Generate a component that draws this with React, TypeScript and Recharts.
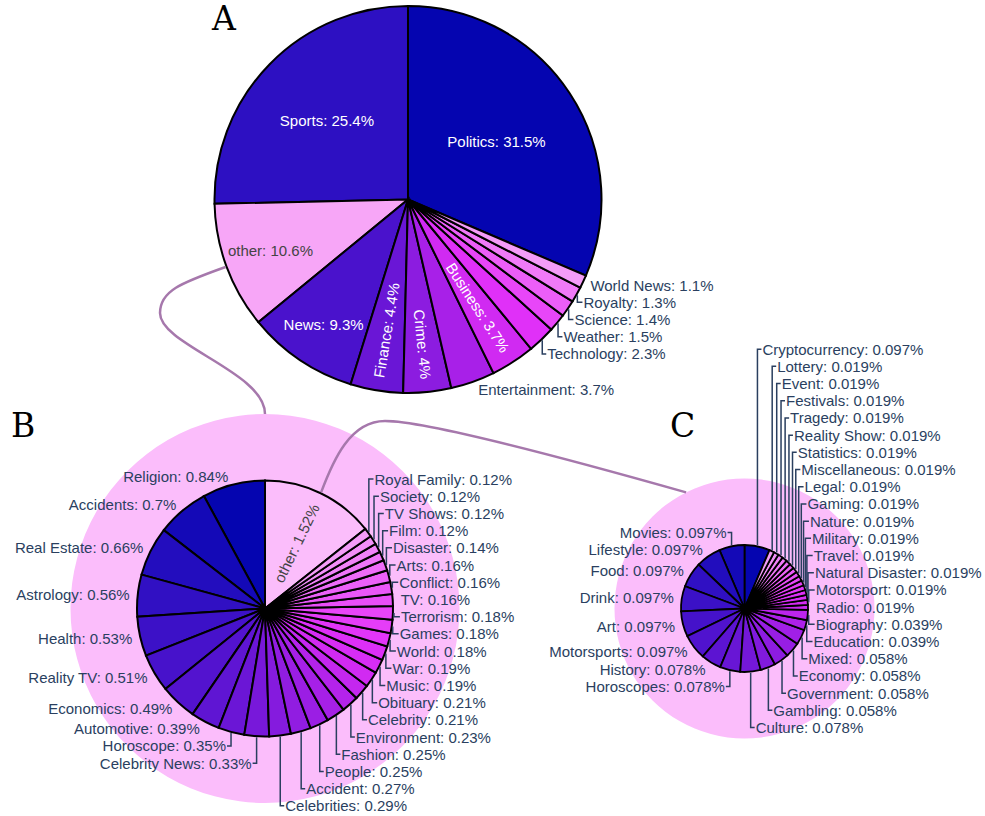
import React from 'react';
import { PieChart, Pie, Cell } from 'recharts';

// ---------------- DATA ----------------
const A_NAMES = ['Politics', 'Sports', 'other', 'News', 'Finance', 'Crime', 'Entertainment', 'Business', 'Technology', 'Weather', 'Science', 'Royalty', 'World News'];
const A_VALUES = [31.5, 25.4, 10.6, 9.3, 4.4, 4, 3.7, 3.7, 2.3, 1.5, 1.4, 1.3, 1.1];

const B_NAMES = ['other', 'Religion', 'Accidents', 'Real Estate', 'Astrology', 'Health', 'Reality TV', 'Economics', 'Automotive', 'Horoscope', 'Celebrity News', 'Celebrities', 'Accident', 'People', 'Fashion', 'Environment', 'Celebrity', 'Obituary', 'Music', 'War', 'World', 'Games', 'Terrorism', 'TV', 'Conflict', 'Arts', 'Disaster', 'Film', 'TV Shows', 'Society', 'Royal Family'];
const B_VALUES = [1.52, 0.84, 0.7, 0.66, 0.56, 0.53, 0.51, 0.49, 0.39, 0.35, 0.33, 0.29, 0.27, 0.25, 0.25, 0.23, 0.21, 0.21, 0.19, 0.19, 0.18, 0.18, 0.18, 0.16, 0.16, 0.16, 0.14, 0.12, 0.12, 0.12, 0.12];

const C_NAMES = ['Cryptocurrency', 'Movies', 'Lifestyle', 'Food', 'Drink', 'Art', 'Motorsports', 'History', 'Horoscopes', 'Culture', 'Gambling', 'Government', 'Economy', 'Mixed', 'Education', 'Biography', 'Radio', 'Motorsport', 'Natural Disaster', 'Travel', 'Military', 'Nature', 'Gaming', 'Legal', 'Miscellaneous', 'Statistics', 'Reality Show', 'Tragedy', 'Festivals', 'Event', 'Lottery'];
const C_VALUES = [0.097, 0.097, 0.097, 0.097, 0.097, 0.097, 0.097, 0.078, 0.078, 0.078, 0.058, 0.058, 0.058, 0.058, 0.039, 0.039, 0.019, 0.019, 0.019, 0.019, 0.019, 0.019, 0.019, 0.019, 0.019, 0.019, 0.019, 0.019, 0.019, 0.019, 0.019];

const TITLES = ['A', 'B', 'C'];

// ---------------- STYLE ----------------
const FONT = '"Liberation Sans", Arial, Helvetica, sans-serif';
const LABEL_COLOR = '#2a3f5f';
const STOPS = ['#0505b0', '#2d10c2', '#4a12cc', '#6a16d6', '#8c1ce0', '#a820e8', '#d02af2', '#e030f8', '#e846f8', '#ec5ef8', '#f07af8', '#f49cf8'];
const OTHER_FILL_A = '#f7a6f7';
const OTHER_FILL_B = '#fbbdfb';
const BG_FILL = '#fbbdfb';
const CURVE = '#a678ac';

const GEO_A = { cx: 408, cy: 199.5, r: 193.5 };
const GEO_B = { cx: 265, cy: 608.5, r: 128, bg: 194.5 };
const GEO_C = { cx: 744.5, cy: 608.5, r: 63.5, bg: 130 };

const INSIDE_A: Record<string, string> = { Politics: 'h', Sports: 'h', other: 'h', News: 'h', Finance: 'r', Crime: 'r', Business: 'r' };
const INSIDE_B: Record<string, string> = { other: 'r' };
const INSIDE_C: Record<string, string> = {};

function hex(h: string) {
  return [parseInt(h.slice(1, 3), 16), parseInt(h.slice(3, 5), 16), parseInt(h.slice(5, 7), 16)];
}
function scaleColor(t: number) {
  const n = STOPS.length - 1;
  const p = Math.max(0, Math.min(1, t)) * n;
  const i = Math.min(Math.floor(p), n - 1);
  const f = p - i;
  const a = hex(STOPS[i]);
  const b = hex(STOPS[i + 1]);
  const c = a.map((v, k) => Math.round(v + (b[k] - v) * f));
  return `rgb(${c[0]},${c[1]},${c[2]})`;
}
function colorsFor(names: string[], otherFill: string) {
  const n = names.filter((x) => x !== 'other').length;
  let k = 0;
  return names.map((nm) => {
    if (nm === 'other') return otherFill;
    const c = scaleColor(n > 1 ? k / (n - 1) : 0);
    k += 1;
    return c;
  });
}

function startAngleFor(values: number[]) {
  const T = values.reduce((a, b) => a + b, 0);
  return 90 - (360 * values[0]) / T;
}

function midThetas(values: number[]) {
  const T = values.reduce((a, b) => a + b, 0);
  const s = startAngleFor(values);
  let cum = 0;
  return values.map((v) => {
    const m = s + ((cum + v / 2) * 360) / T;
    cum += v;
    return (((90 - m) % 360) + 360) % 360;
  });
}

function computeLayout(names: string[], values: number[], inside: Record<string, string>, cx: number, cy: number, R: number) {
  const T = values.reduce((a, b) => a + b, 0);
  const th = midThetas(values);
  const D = 7;
  const SP = 17.2;
  const GAP = 5;
  const out: any[] = [];
  th.forEach((t, i) => {
    if (!inside[names[i]]) {
      const a = (t * Math.PI) / 180;
      out.push({ i, sin: Math.sin(a), cos: Math.cos(a), ny: cy - (R + D) * Math.cos(a) });
    }
  });
  const doSide = (side: any[]) => {
    const top = side.filter((o) => o.cos > 0).sort((p, q) => p.cos - q.cos);
    const bot = side.filter((o) => o.cos <= 0).sort((p, q) => q.cos - p.cos);
    let prev = Infinity;
    top.forEach((o) => {
      o.y = Math.min(o.ny, prev - SP);
      prev = o.y;
    });
    prev = top.length ? top[0].y : -Infinity;
    bot.forEach((o) => {
      o.y = Math.max(o.ny, prev + SP);
      prev = o.y;
    });
  };
  doSide(out.filter((o) => o.sin >= 0));
  doSide(out.filter((o) => o.sin < 0));
  const pos: Record<number, any> = {};
  out.forEach((o) => {
    const ex = cx + R * o.sin;
    const ey = cy - R * o.cos;
    const side = o.sin >= 0 ? 1 : -1;
    const lx = ex + side * Math.max(D * Math.abs(o.sin), GAP);
    pos[o.i] = { ex, ey, lx, ly: o.y, pushed: Math.abs(o.y - o.ny) > 2, side };
  });
  return { th, T, pos };
}

function makeLabel(names: string[], values: number[], inside: Record<string, string>) {
  let cache: any = null;
  return (props: any) => {
    const i = props.index;
    const cx = Number(props.cx);
    const cy = Number(props.cy);
    const R = Number(props.outerRadius) + 1;
    if (!cache) cache = computeLayout(names, values, inside, cx, cy, R);
    const name = names[i];
    const text = `${name}: ${values[i]}%`;
    const mode = inside[name];
    const t = cache.th[i];
    const a = (t * Math.PI) / 180;
    const inColor = name === 'other' ? '#444444' : '#ffffff';
    if (mode === 'h') {
      const alpha = (values[i] / cache.T) * Math.PI;
      const d = R / (1 + Math.sin(alpha));
      return (
        <text x={cx + d * Math.sin(a)} y={cy - d * Math.cos(a)} textAnchor="middle" dominantBaseline="central" fill={inColor} fontFamily={FONT} fontSize={15}>
          {text}
        </text>
      );
    }
    if (mode === 'r') {
      const rr = R - 14;
      const px = cx + rr * Math.sin(a);
      const py = cy - rr * Math.cos(a);
      const rot = t < 180 ? t - 90 : t - 270;
      return (
        <text x={px} y={py} transform={`rotate(${rot} ${px} ${py})`} textAnchor={t < 180 ? 'end' : 'start'} dominantBaseline="central" fill={inColor} fontFamily={FONT} fontSize={15}>
          {text}
        </text>
      );
    }
    const p = cache.pos[i];
    return (
      <g>
        {p.pushed && (
          <path d={`M${p.ex},${p.ey}V${p.ly}H${p.lx - p.side * 1}`} fill="none" stroke={LABEL_COLOR} strokeWidth={1.5} />
        )}
        <text x={p.lx} y={p.ly} textAnchor={p.side > 0 ? 'start' : 'end'} dominantBaseline="central" fill={LABEL_COLOR} fontFamily={FONT} fontSize={15}>
          {text}
        </text>
      </g>
    );
  };
}

const labelA = makeLabel(A_NAMES, A_VALUES, INSIDE_A);
const labelB = makeLabel(B_NAMES, B_VALUES, INSIDE_B);
const labelC = makeLabel(C_NAMES, C_VALUES, INSIDE_C);

const dataA = A_NAMES.map((name, i) => ({ name, value: A_VALUES[i] }));
const dataB = B_NAMES.map((name, i) => ({ name, value: B_VALUES[i] }));
const dataC = C_NAMES.map((name, i) => ({ name, value: C_VALUES[i] }));
const colorsA = colorsFor(A_NAMES, OTHER_FILL_A);
const colorsB = colorsFor(B_NAMES, OTHER_FILL_B);
const colorsC = colorsFor(C_NAMES, OTHER_FILL_B);
const BG = [{ name: 'bg', value: 1 }];

function pt(cx: number, cy: number, r: number, tDeg: number) {
  const a = (tDeg * Math.PI) / 180;
  return [cx + r * Math.sin(a), cy - r * Math.cos(a)];
}

function Overlay() {
  const thA = midThetas(A_VALUES)[A_NAMES.indexOf('other')];
  const thB = midThetas(B_VALUES)[B_NAMES.indexOf('other')];
  const [a0x, a0y] = pt(GEO_A.cx, GEO_A.cy, GEO_A.r + 1, thA);
  const [b1x, b1y] = [GEO_B.cx, GEO_B.cy - GEO_B.bg];
  const [b0x, b0y] = pt(GEO_B.cx, GEO_B.cy, GEO_B.r + 1, thB);
  const [c1x, c1y] = pt(GEO_C.cx, GEO_C.cy, GEO_C.bg, 333.3);
  const p1 = `M${a0x},${a0y} C${a0x - 45},${a0y + 16} 160,${313 - 22} 160,313 C160,345 ${b1x},${b1y - 42} ${b1x},${b1y}`;
  const p2 = `M${b0x},${b0y} C${b0x + 12},${b0y - 32} 350,421 385,421 C430,421 600,468 ${c1x},${c1y}`;
  return (
    <svg width={985} height={816} style={{ position: 'absolute', left: 0, top: 0, pointerEvents: 'none' }}>
      <path d={p1} fill="none" stroke={CURVE} strokeWidth={2.5} />
      <path d={p2} fill="none" stroke={CURVE} strokeWidth={2.5} />
      <text x={212} y={30} fontFamily='"DejaVu Serif", serif' fontSize={33} fill="#000">{TITLES[0]}</text>
      <text x={11} y={437} fontFamily='"DejaVu Serif", serif' fontSize={33} fill="#000">{TITLES[1]}</text>
      <text x={670} y={437} fontFamily='"DejaVu Serif", serif' fontSize={33} fill="#000">{TITLES[2]}</text>
    </svg>
  );
}

export default function App() {
  const sA = startAngleFor(A_VALUES);
  const sB = startAngleFor(B_VALUES);
  const sC = startAngleFor(C_VALUES);
  return (
    <div style={{ position: 'absolute', left: 0, top: 0, width: 985, height: 816, background: '#fff', overflow: 'hidden' }}>
      <PieChart width={985} height={816} margin={{ top: 0, right: 0, bottom: 0, left: 0 }}>
        <Pie data={BG} dataKey="value" cx={GEO_B.cx} cy={GEO_B.cy} outerRadius={GEO_B.bg} startAngle={90} endAngle={-270} fill={BG_FILL} stroke="none" isAnimationActive={false} />
        <Pie data={BG} dataKey="value" cx={GEO_C.cx} cy={GEO_C.cy} outerRadius={GEO_C.bg} startAngle={90} endAngle={-270} fill={BG_FILL} stroke="none" isAnimationActive={false} />
        <Pie data={dataA} dataKey="value" nameKey="name" cx={GEO_A.cx} cy={GEO_A.cy} outerRadius={GEO_A.r} startAngle={sA} endAngle={sA + 360} stroke="#000" strokeWidth={2} label={labelA} labelLine={false} isAnimationActive={false}>
          {dataA.map((d, i) => <Cell key={d.name} fill={colorsA[i]} />)}
        </Pie>
        <Pie data={dataB} dataKey="value" nameKey="name" cx={GEO_B.cx} cy={GEO_B.cy} outerRadius={GEO_B.r} startAngle={sB} endAngle={sB + 360} stroke="#000" strokeWidth={2} label={labelB} labelLine={false} isAnimationActive={false}>
          {dataB.map((d, i) => <Cell key={d.name + i} fill={colorsB[i]} />)}
        </Pie>
        <Pie data={dataC} dataKey="value" nameKey="name" cx={GEO_C.cx} cy={GEO_C.cy} outerRadius={GEO_C.r} startAngle={sC} endAngle={sC + 360} stroke="#000" strokeWidth={1.8} label={labelC} labelLine={false} isAnimationActive={false}>
          {dataC.map((d, i) => <Cell key={d.name + i} fill={colorsC[i]} />)}
        </Pie>
      </PieChart>
      <Overlay />
    </div>
  );
}
